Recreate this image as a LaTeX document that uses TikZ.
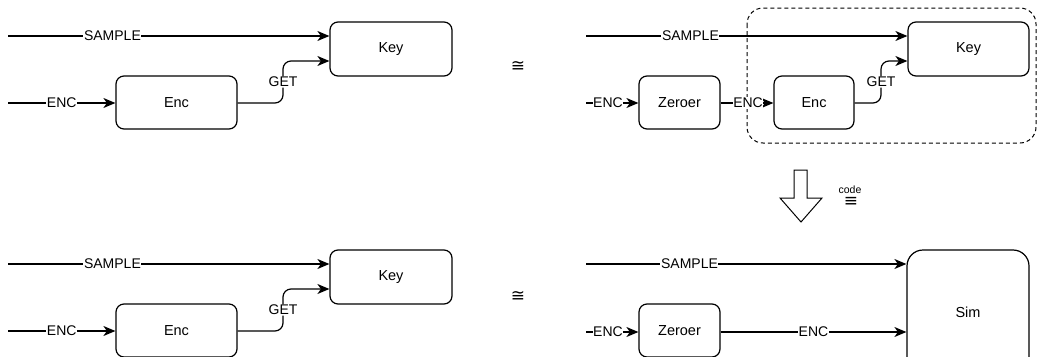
\documentclass[tikz,border=0pt]{standalone}
\usepackage{fontspec}
\setmainfont{Liberation Sans}
\newfontfamily\symfont{DejaVu Sans}
\usetikzlibrary{arrows.meta}
\tikzset{
  box/.style={draw, line width=1.2pt, rounded corners=8pt, inner sep=0pt, font=\fontsize{14.5}{17}\selectfont},
  conn/.style={line width=1.2pt, -{Stealth[length=12pt,width=10pt,inset=3.5pt]}},
  lbl/.style={fill=white, inner sep=0.6pt, font=\fontsize{14}{16}\selectfont},
  sym/.style={font=\symfont\fontsize{17}{19}\selectfont, inner sep=0pt},
}
\begin{document}
\begin{tikzpicture}[x=1pt,y=-1pt]
\useasboundingbox (0,0) rectangle (1038,356);
\clip (0,0) rectangle (1038,356);
% ---------- top left ----------
\node[box, minimum width=122pt, minimum height=54pt] (key1) at (391,49) {Key};
\node[box, minimum width=121pt, minimum height=53pt] (enc1) at (176.5,102.5) {Enc};
\coordinate (s1) at (8,36);
\coordinate (e1) at (8,103);
\draw[conn] (s1) -- node[lbl, pos=0.325]{SAMPLE} (key1.west |- s1);
\draw[conn] (e1) -- node[lbl, pos=0.5]{ENC} (enc1.west |- e1);
\draw[conn, rounded corners=8pt] (enc1.east |- e1) -- (283,103) -- node[lbl]{GET} (283,61) -- (key1.west |- 0,61);
\node[sym] (cong1) at (518,66) {≅};
% ---------- top right ----------
\draw[line width=1pt, dashed, dash pattern=on 4pt off 3pt, rounded corners=16pt] (747,8) rectangle (1036,143);
\node[box, minimum width=121pt, minimum height=54pt] (key2) at (968.5,49) {Key};
\node[box, minimum width=81pt, minimum height=53pt] (zer1) at (679.5,102.5) {Zeroer};
\node[box, minimum width=80pt, minimum height=53pt] (enc2) at (814,102.5) {Enc};
\coordinate (s2) at (586,36);
\coordinate (e2) at (586,103);
\draw[conn] (s2) -- node[lbl, pos=0.325]{SAMPLE} (key2.west |- s2);
\draw[conn] (e2) -- node[lbl, pos=0.42]{ENC} (zer1.west |- e2);
\draw[conn] (zer1.east |- e2) -- node[lbl, pos=0.52]{ENC} (enc2.west |- e2);
\draw[conn, rounded corners=8pt] (enc2.east |- e2) -- (881,103) -- node[lbl]{GET} (881,61) -- (key2.west |- 0,61);
% ---------- block arrow ----------
\draw[line width=1pt, fill=white] (794,170) -- (807,170) -- (807,198) -- (822,198) -- (801,222) -- (780,198) -- (794,198) -- cycle;
\node[sym] (equiv) at (851,202) {≡};
\node[font=\fontsize{10.5}{12}\selectfont, inner sep=0pt, anchor=south] (code) at (850,193.5) {code};
% ---------- bottom left ----------
\node[box, minimum width=122pt, minimum height=54pt] (key3) at (391,277) {Key};
\node[box, minimum width=121pt, minimum height=53pt] (enc3) at (176.5,330.5) {Enc};
\coordinate (s3) at (8,264);
\coordinate (e3) at (8,331);
\draw[conn] (s3) -- node[lbl, pos=0.325]{SAMPLE} (key3.west |- s3);
\draw[conn] (e3) -- node[lbl, pos=0.5]{ENC} (enc3.west |- e3);
\draw[conn, rounded corners=8pt] (enc3.east |- e3) -- (283,331) -- node[lbl]{GET} (283,289) -- (key3.west |- 0,289);
\node[sym] (cong2) at (518,296) {≅};
% ---------- bottom right ----------
\node[box, rounded corners=16pt, minimum width=122pt, minimum height=124pt] (sim) at (968,312) {Sim};
\node[box, minimum width=81pt, minimum height=53pt] (zer2) at (679.5,330.5) {Zeroer};
\coordinate (s4) at (586,264);
\coordinate (e4) at (586,332);
\draw[conn] (s4) -- node[lbl, pos=0.323]{SAMPLE} (sim.west |- s4);
\draw[conn] (e4) -- node[lbl, pos=0.42]{ENC} (zer2.west |- e4);
\draw[conn] (zer2.east |- e4) -- node[lbl, pos=0.5]{ENC} (sim.west |- e4);
\end{tikzpicture}
\end{document}
